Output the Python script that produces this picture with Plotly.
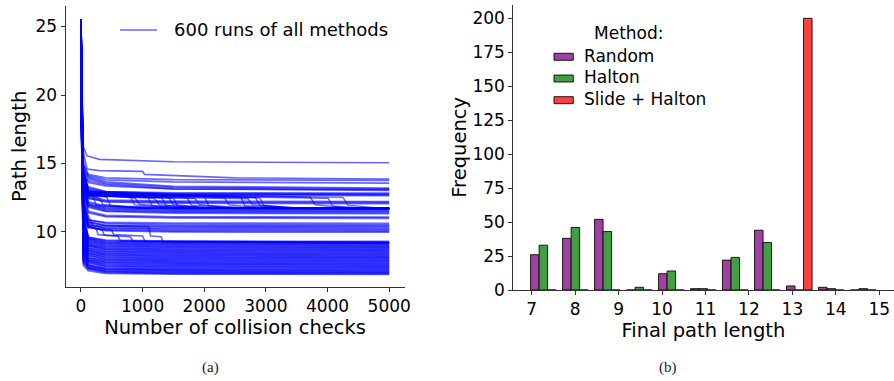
import plotly.graph_objects as go

# ---------------- data: left panel (convergence runs) ----------------
START_LENGTH = 25.55
CHECKPOINTS = [0, 10, 40, 120, 400, 1500, 5000]
# each row: path length at 10, 40, 120, 400, 1500 and 5000 collision checks
PLAIN_RUNS = [
    [19.2, 7.55, 7.17, 6.98, 6.92, 6.90],
    [20.4, 7.90, 7.30, 7.05, 6.97, 6.95],
    [18.1, 8.20, 7.35, 7.10, 7.02, 7.00],
    [21.3, 7.70, 7.35, 7.14, 7.08, 7.06],
    [19.8, 8.50, 7.50, 7.22, 7.15, 7.12],
    [17.6, 8.00, 7.45, 7.26, 7.20, 7.18],
    [20.9, 8.70, 7.60, 7.33, 7.26, 7.24],
    [18.8, 7.95, 7.55, 7.38, 7.32, 7.30],
    [22.0, 8.90, 7.80, 7.48, 7.40, 7.37],
    [19.5, 8.30, 7.70, 7.52, 7.46, 7.44],
    [17.9, 9.10, 7.90, 7.60, 7.53, 7.50],
    [20.6, 8.40, 7.85, 7.66, 7.60, 7.57],
    [18.6, 9.30, 8.00, 7.75, 7.67, 7.64],
    [21.7, 8.50, 7.95, 7.79, 7.72, 7.70],
    [19.1, 9.00, 8.10, 7.88, 7.80, 7.77],
    [17.4, 8.80, 8.10, 7.93, 7.86, 7.84],
    [20.2, 9.60, 8.30, 8.02, 7.93, 7.90],
    [18.3, 8.90, 8.25, 8.06, 7.99, 7.97],
    [21.1, 9.80, 8.45, 8.16, 8.07, 8.04],
    [19.4, 9.20, 8.40, 8.20, 8.12, 8.10],
    [17.7, 10.1, 8.60, 8.30, 8.20, 8.17],
    [20.7, 9.30, 8.50, 8.33, 8.26, 8.24],
    [18.9, 9.90, 8.70, 8.42, 8.33, 8.30],
    [22.3, 9.40, 8.65, 8.46, 8.39, 8.37],
    [19.7, 10.3, 8.85, 8.56, 8.47, 8.44],
    [17.8, 9.60, 8.80, 8.60, 8.52, 8.50],
    [20.3, 10.5, 9.00, 8.70, 8.60, 8.57],
    [18.4, 9.70, 8.95, 8.74, 8.66, 8.64],
    [21.4, 10.2, 9.10, 8.82, 8.73, 8.70],
    [19.0, 9.90, 9.05, 8.87, 8.79, 8.77],
    [17.5, 10.8, 9.25, 8.96, 8.87, 8.84],
    [20.8, 10.0, 9.20, 9.00, 8.92, 8.90],
    [18.7, 11.0, 9.40, 9.10, 9.00, 8.97],
    [21.9, 10.4, 9.35, 9.14, 9.06, 9.04],
    [19.3, 11.2, 9.50, 9.22, 9.13, 9.10],
    [18.0, 10.6, 9.50, 9.27, 9.19, 9.17],
    [20.5, 11.4, 9.60, 9.35, 9.26, 9.24],
    [18.5, 10.9, 9.60, 9.40, 9.32, 9.30],
    [19.9, 11.3, 10.40, 10.10, 10.00, 9.98],
    [18.2, 10.9, 10.35, 10.15, 10.08, 10.06],
    [21.2, 11.8, 10.60, 10.25, 10.17, 10.15],
    [19.0, 11.1, 10.50, 10.32, 10.26, 10.24],
    [17.7, 12.2, 10.75, 10.45, 10.35, 10.33],
    [20.6, 11.5, 10.70, 10.50, 10.44, 10.42],
    [18.6, 12.5, 10.90, 10.62, 10.54, 10.52],
    [21.6, 11.9, 10.85, 10.70, 10.64, 10.62],
    [19.5, 12.6, 11.40, 11.12, 11.03, 11.00],
    [21.0, 13.0, 11.50, 11.20, 11.10, 11.08],
    [18.4, 12.8, 11.80, 11.50, 11.38, 11.34],
    [20.1, 13.3, 11.90, 11.56, 11.45, 11.42],
    [17.9, 12.9, 11.95, 11.64, 11.53, 11.50],
    [21.3, 13.6, 12.00, 11.72, 11.61, 11.58],
    [19.2, 13.1, 12.10, 11.80, 11.69, 11.66],
    [20.7, 13.8, 12.20, 11.88, 11.77, 11.74],
    [19.6, 13.9, 12.50, 12.20, 12.10, 12.07],
    [18.1, 13.4, 12.45, 12.25, 12.17, 12.15],
    [21.1, 14.2, 12.60, 12.33, 12.24, 12.22],
    [20.3, 14.0, 13.00, 12.78, 12.69, 12.66],
    [18.8, 14.5, 13.10, 12.86, 12.77, 12.75],
    [21.8, 14.1, 13.20, 12.95, 12.85, 12.83],
    [19.0, 14.1, 13.75, 13.45, 13.15, 13.04],
    [20.4, 14.4, 13.90, 13.55, 13.25, 13.12],
    [18.3, 14.6, 14.00, 13.65, 13.33, 13.20],
    [21.5, 14.8, 14.10, 13.80, 13.65, 13.57],
    [19.8, 15.0, 14.20, 13.95, 13.82, 13.76],
]

# runs that improve late with a visible drop (11-12.5 band)
HOOK_EARLY = [
    [19.4, 13.8, 12.90], [20.8, 14.2, 12.80], [18.2, 13.5, 12.85], [21.5, 14.6, 13.00],
    [19.0, 13.6, 12.75], [20.1, 14.0, 12.90], [17.8, 13.3, 12.70], [21.0, 14.4, 12.80],
    [18.9, 13.9, 12.95], [20.5, 13.4, 12.70], [19.7, 14.1, 12.85], [18.4, 13.2, 12.65],
    [21.3, 14.5, 13.00], [19.2, 13.7, 12.80], [20.3, 14.3, 12.90], [18.0, 13.1, 12.60],
    [19.9, 13.8, 12.80], [21.7, 14.0, 12.75], [18.6, 13.6, 12.85], [20.9, 13.5, 12.70],
    [19.5, 14.2, 12.80],
]
HOOK_START = [200, 300, 420, 800, 880, 1090, 1200, 1310, 1420, 1500, 1720,
              1850, 2000, 2330, 2590, 2710, 2830, 2900, 3720, 4010, 4250]
HOOK_END = [250, 360, 480, 870, 950, 1150, 1270, 1380, 1490, 1570, 1790,
            1920, 2070, 2400, 2660, 2780, 2900, 2970, 3800, 4080, 4330]
HOOK_HIGH = [12.58, 12.45, 12.52, 12.60, 12.47, 12.55, 12.43, 12.50, 12.57, 12.46, 12.53,
             12.44, 12.59, 12.49, 12.56, 12.42, 12.51, 12.48, 12.54, 12.46, 12.52]
HOOK_LOW = [11.95, 12.00, 11.90, 11.97, 12.02, 11.92, 11.98, 11.94, 12.01, 11.90, 11.96,
            12.00, 11.93, 11.97, 11.91, 11.99, 11.95, 11.92, 11.98, 11.90, 11.96]
HOOK_MERGE = [900, 1000, 1100, 1500, 1600, 1800, 1900, 2000, 2100, 2200, 2400,
              2500, 2700, 3000, 3300, 3400, 3500, 3600, 4300, 4600, 4800]
HOOK_FINAL = [11.72, 11.70, 11.74, 11.68, 11.73, 11.71, 11.75, 11.69, 11.72, 11.70, 11.74,
              11.67, 11.73, 11.71, 11.75, 11.70, 11.72, 11.69, 11.74, 11.71, 11.73]

# individually read runs (checks, path length)
SPECIAL_RUNS = [
    ([0, 10, 40, 120, 250, 280, 600, 640, 5000],
     [25.55, 20.0, 12.0, 10.5, 10.2, 9.8, 9.7, 9.35, 9.25]),
    ([0, 10, 40, 120, 350, 380, 800, 850, 5000],
     [25.55, 18.7, 11.6, 10.4, 10.1, 9.75, 9.65, 9.3, 9.2]),
    ([0, 10, 40, 120, 500, 530, 1000, 1040, 5000],
     [25.55, 21.2, 12.3, 10.3, 10.15, 9.8, 9.7, 9.3, 9.15]),
    ([0, 10, 40, 200, 1100, 1130, 1300, 1330, 5000],
     [25.55, 19.6, 11.9, 10.45, 10.38, 9.7, 9.65, 9.3, 9.22]),
    ([0, 10, 40, 100, 300, 1000, 1030, 2500, 5000],
     [25.55, 20.5, 15.8, 14.6, 14.48, 14.42, 14.2, 13.95, 13.87]),
    ([0, 10, 40, 100, 300, 1500, 5000],
     [25.55, 21.0, 16.2, 15.55, 15.3, 15.12, 15.05]),
    ([0, 10, 40, 120, 400, 1500, 5000],
     [25.55, 19.3, 14.3, 13.6, 13.35, 13.14, 13.08]),
    ([0, 10, 40, 120, 400, 1500, 5000],
     [25.55, 20.9, 13.9, 13.3, 12.95, 12.78, 12.72]),
]

LEFT_LEGEND = "600 runs of all methods"

# ---------------- data: right panel (histogram) ----------------
BIN_CENTERS = [7.268, 8.005, 8.741, 9.477, 10.214, 10.950, 11.686, 12.423, 13.159, 13.895, 14.632]
METHODS = ["Random", "Halton", "Slide + Halton"]
COUNTS_RANDOM = [26, 38, 52, 0, 12, 1, 22, 44, 3, 2, 0]
COUNTS_HALTON = [33, 46, 43, 2, 14, 1, 24, 35, 0, 1, 1]
COUNTS_SLIDE = [0, 0, 0, 0, 0, 0, 0, 0, 200, 0, 0]
X_TICKS_RIGHT = [7, 8, 9, 10, 11, 12, 13, 14, 15]
Y_TICKS_RIGHT = [0, 25, 50, 75, 100, 125, 150, 175, 200]
X_TICKS_LEFT = [0, 1000, 2000, 3000, 4000, 5000]
Y_TICKS_LEFT = [10, 15, 20, 25]

# ---------------- styling ----------------
W, H = 894, 381
FONT = "DejaVu Sans"
AX = "#333333"
LINE_COLOR = "rgba(0,0,255,0.6)"
BAR_COLORS = ["#a040a0", "#409f40", "#ff4040"]
TITLE_FONT = dict(family=FONT, size=19.5, color="black")


def px(x):
    return x / W


def py(y):
    return 1 - y / H


fig = go.Figure()

for row in PLAIN_RUNS:
    fig.add_trace(go.Scatter(x=CHECKPOINTS, y=[START_LENGTH] + row, mode="lines",
                             line=dict(color=LINE_COLOR, width=1.8),
                             xaxis="x", yaxis="y", hoverinfo="skip"))

for i in range(len(HOOK_START)):
    e = HOOK_EARLY[i]
    xs = [0, 10, 40, 120, HOOK_START[i], HOOK_END[i], HOOK_MERGE[i], 5000]
    ys = [START_LENGTH, e[0], e[1], e[2], HOOK_HIGH[i], HOOK_LOW[i],
          HOOK_FINAL[i] + 0.03, HOOK_FINAL[i]]
    fig.add_trace(go.Scatter(x=xs, y=ys, mode="lines",
                             line=dict(color=LINE_COLOR, width=1.4),
                             xaxis="x", yaxis="y", hoverinfo="skip"))

for xs, ys in SPECIAL_RUNS:
    fig.add_trace(go.Scatter(x=xs, y=ys, mode="lines",
                             line=dict(color=LINE_COLOR, width=1.6),
                             xaxis="x", yaxis="y", hoverinfo="skip"))

for name, counts, col in zip(METHODS, [COUNTS_RANDOM, COUNTS_HALTON, COUNTS_SLIDE], BAR_COLORS):
    fig.add_trace(go.Bar(x=BIN_CENTERS, y=counts, name=name, marker=dict(
        color=col, line=dict(color="rgba(0,0,0,0.85)", width=1)),
        xaxis="x2", yaxis="y2", hoverinfo="skip"))

axis_common = dict(showgrid=False, zeroline=False, showline=True, linecolor=AX, linewidth=1,
                   ticks="outside", ticklen=4, tickwidth=1, tickcolor=AX,
                   tickfont=dict(family=FONT, size=17, color="black"), automargin=False)

fig.update_layout(
    width=W, height=H, margin=dict(l=0, r=0, t=0, b=0),
    paper_bgcolor="white", plot_bgcolor="white", showlegend=False,
    barmode="group", bargap=0.2, bargroupgap=0,
    xaxis=dict(domain=[px(65.5), px(404.6)], range=[-250, 5250], tickvals=X_TICKS_LEFT,
               title=dict(text="Number of collision checks", font=TITLE_FONT, standoff=0),
               anchor="y", **axis_common),
    yaxis=dict(domain=[py(286.7), py(6)], range=[6.0, 26.5], tickvals=Y_TICKS_LEFT,
               title=dict(text="Path length", font=TITLE_FONT, standoff=3),
               anchor="x", **axis_common),
    xaxis2=dict(domain=[px(513.3), px(893.6)], range=[6.576, 15.33], tickvals=X_TICKS_RIGHT,
                title=dict(text="Final path length", font=TITLE_FONT, standoff=0),
                anchor="y2", **axis_common),
    yaxis2=dict(domain=[py(290), py(4.7)], range=[0, 210], tickvals=Y_TICKS_RIGHT,
                title=dict(text="Frequency", font=TITLE_FONT, standoff=0),
                anchor="x2", **axis_common),
)

shapes = []
annotations = []
# left legend
shapes.append(dict(type="line", xref="paper", yref="paper", x0=px(120), x1=px(157), y0=py(30), y1=py(30),
                   line=dict(color=LINE_COLOR, width=1.5)))
annotations.append(dict(text=LEFT_LEGEND, xref="paper", yref="paper", x=px(171.5), y=py(30),
                        xanchor="left", yanchor="middle", showarrow=False,
                        font=dict(family=FONT, size=18, color="black")))
# right legend
annotations.append(dict(text="Method:", xref="paper", yref="paper", x=px(629.3), y=py(33.3),
                        xanchor="center", yanchor="middle", showarrow=False,
                        font=dict(family=FONT, size=17, color="black")))
for k, (name, col) in enumerate(zip(METHODS, BAR_COLORS)):
    yc = 56.8 + k * 21.7
    shapes.append(dict(type="rect", xref="paper", yref="paper", x0=px(554), x1=px(573.3),
                       y0=py(yc - 3.5), y1=py(yc + 3.5), fillcolor=col,
                       line=dict(color="rgba(0,0,0,0.85)", width=1)))
    annotations.append(dict(text=name, xref="paper", yref="paper", x=px(581.5), y=py(yc - 1),
                            xanchor="left", yanchor="middle", showarrow=False,
                            font=dict(family=FONT, size=17, color="black")))
# captions
for label, xc in [("(a)", 210), ("(b)", 668)]:
    annotations.append(dict(text=label, xref="paper", yref="paper", x=px(xc), y=py(367),
                            xanchor="center", yanchor="middle", showarrow=False,
                            font=dict(family="Liberation Serif", size=15, color="#222222")))

fig.update_layout(shapes=shapes, annotations=annotations)
fig.write_html("out.html", config={"displayModeBar": False},
               post_script="document.body.style.margin='0';document.body.style.padding='0';")
